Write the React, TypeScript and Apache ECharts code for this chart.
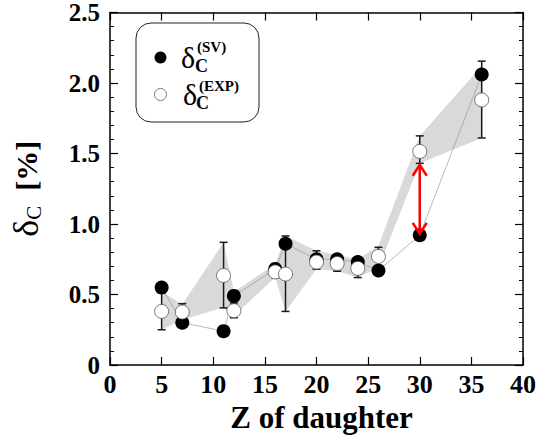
import React, { useEffect, useRef } from "react";
import * as echarts from "echarts";

// Atomic number of daughter
const Z = [5, 7, 11, 12, 16, 17, 20, 22, 24, 26, 30, 36];
// delta_C (SV) [%]
const deltaSV = [0.55, 0.30, 0.24, 0.49, 0.68, 0.86, 0.75, 0.75, 0.73, 0.67, 0.92, 2.06];
// delta_C (EXP) [%]
const deltaEXP = [0.38, 0.375, 0.635, 0.385, 0.66, 0.645, 0.73, 0.72, 0.685, 0.77, 1.515, 1.88];
// error bars on EXP
const errLow = [0.25, 0.32, 0.405, 0.335, 0.62, 0.38, 0.68, 0.665, 0.62, 0.70, 1.43, 1.61];
const errHigh = [0.51, 0.435, 0.87, 0.44, 0.72, 0.915, 0.81, 0.78, 0.75, 0.835, 1.625, 2.155];
// shaded band
const bandLow = [0.25, 0.32, 0.41, 0.35, 0.62, 0.38, 0.68, 0.665, 0.62, 0.69, 1.43, 1.61];
const bandHigh = [0.52, 0.43, 0.87, 0.52, 0.715, 0.915, 0.81, 0.78, 0.75, 0.845, 1.625, 2.12];
// red double arrow
const arrowZ = [30];
const arrowFrom = [0.93];
const arrowTo = [1.42];

const FONT = "Liberation Serif, serif";

export default function App() {
  const ref = useRef<HTMLDivElement>(null);
  useEffect(() => {
    if (!ref.current) return;
    const chart = echarts.init(ref.current, null, { renderer: "svg" });
    const axisLine = { show: true, onZero: false, lineStyle: { color: "#000", width: 1.5 } };
    const option: any = {
      animation: false,
      backgroundColor: "#fff",
      textStyle: { fontFamily: FONT },
      grid: { left: 109, right: 14, top: 10, bottom: 82 },
      xAxis: [
        {
          type: "value",
          min: 0,
          max: 40,
          interval: 5,
          axisLine,
          axisTick: { show: true, inside: true, length: 8, lineStyle: { color: "#000", width: 1.2 } },
          axisLabel: {
            margin: 6,
            fontFamily: FONT,
            fontWeight: "bold",
            fontSize: 26,
            color: "#000",
          },
          splitLine: { show: false },
          name: "Z of daughter",
          nameLocation: "middle",
          nameGap: 37,
          nameTextStyle: { fontFamily: FONT, fontWeight: "bold", fontSize: 31, color: "#000", padding: [0, 0, 0, 10] },
        },
        {
          type: "value",
          position: "top",
          min: 0,
          max: 40,
          interval: 5,
          axisLine,
          axisTick: { show: true, inside: true, length: 8, lineStyle: { color: "#000", width: 1.2 } },
          axisLabel: { show: false },
          splitLine: { show: false },
        },
      ],
      yAxis: [
        {
          type: "value",
          min: 0,
          max: 2.5,
          interval: 0.5,
          axisLine,
          axisTick: { show: true, inside: true, length: 8, lineStyle: { color: "#000", width: 1.2 } },
          minorTick: { show: true, splitNumber: 5, length: 4, lineStyle: { color: "#000", width: 1 } },
          axisLabel: {
            margin: 10,
            fontFamily: FONT,
            fontWeight: "bold",
            fontSize: 25,
            color: "#000",
            formatter: (v: number) => (v === 0 ? "0" : v.toFixed(1)),
          },
          splitLine: { show: false },
          name: "{d|δ}{c|C}{p|  [%]}",
          nameLocation: "middle",
          nameRotate: 90,
          nameGap: 66,
          nameTextStyle: {
            rich: {
              d: { fontFamily: FONT, fontSize: 36, color: "#000" },
              c: { fontFamily: FONT, fontSize: 21, color: "#000", verticalAlign: "bottom" },
              p: { fontFamily: FONT, fontSize: 30, fontWeight: "bold", color: "#000" },
            },
          },
        },
        {
          type: "value",
          position: "right",
          min: 0,
          max: 2.5,
          interval: 0.5,
          axisLine,
          axisTick: { show: true, inside: true, length: 8, lineStyle: { color: "#000", width: 1.2 } },
          minorTick: { show: true, splitNumber: 5, length: 4, lineStyle: { color: "#000", width: 1 } },
          axisLabel: { show: false },
          splitLine: { show: false },
        },
      ],
      series: [
        {
          type: "custom",
          name: "band",
          z: 1,
          silent: true,
          data: Z.map((z, i) => [z, bandLow[i], bandHigh[i]]),
          encode: { x: 0, y: [1, 2] },
          renderItem: (params: any, api: any) => {
            if (params.dataIndex !== 0) return null;
            const upper = Z.map((z, i) => api.coord([z, bandHigh[i]]));
            const lower = Z.map((z, i) => api.coord([z, bandLow[i]])).reverse();
            return {
              type: "polygon",
              shape: { points: upper.concat(lower) },
              style: { fill: "#d9d9d9", stroke: "none" },
            };
          },
        },
        {
          type: "line",
          name: "svline",
          z: 2,
          silent: true,
          showSymbol: false,
          symbol: "none",
          data: Z.map((z, i) => [z, deltaSV[i]]),
          lineStyle: { color: "#999", width: 0.7 },
        },
        {
          type: "custom",
          name: "errors",
          z: 3,
          silent: true,
          data: Z.map((z, i) => [z, errLow[i], errHigh[i]]),
          encode: { x: 0, y: [1, 2] },
          renderItem: (params: any, api: any) => {
            const x = api.value(0);
            const lo = api.coord([x, api.value(1)]);
            const hi = api.coord([x, api.value(2)]);
            const hw = 4;
            const st = { stroke: "#1a1a1a", lineWidth: 1.5 };
            return {
              type: "group",
              children: [
                { type: "line", shape: { x1: lo[0], y1: lo[1], x2: hi[0], y2: hi[1] }, style: st },
                { type: "line", shape: { x1: lo[0] - hw, y1: lo[1], x2: lo[0] + hw, y2: lo[1] }, style: st },
                { type: "line", shape: { x1: hi[0] - hw, y1: hi[1], x2: hi[0] + hw, y2: hi[1] }, style: st },
              ],
            };
          },
        },
        {
          type: "scatter",
          name: "SV",
          z: 4,
          symbol: "circle",
          symbolSize: 14,
          data: Z.map((z, i) => [z, deltaSV[i]]),
          itemStyle: { color: "#000", opacity: 1 },
        },
        {
          type: "scatter",
          name: "EXP",
          z: 5,
          symbol: "circle",
          symbolSize: 14,
          data: Z.map((z, i) => [z, deltaEXP[i]]),
          itemStyle: { color: "#fff", borderColor: "#555", borderWidth: 0.8, opacity: 1 },
        },
        {
          type: "custom",
          name: "arrow",
          z: 6,
          silent: true,
          data: arrowZ.map((z, i) => [z, arrowFrom[i], arrowTo[i]]),
          encode: { x: 0, y: [1, 2] },
          renderItem: (params: any, api: any) => {
            const x = api.value(0);
            const a = api.coord([x, api.value(1)]);
            const b = api.coord([x, api.value(2)]);
            const st = { stroke: "#ff0000", lineWidth: 2.5, fill: "none" };
            const hw = 7;
            const hl = 11;
            return {
              type: "group",
              children: [
                { type: "line", shape: { x1: a[0], y1: a[1], x2: b[0], y2: b[1] }, style: st },
                {
                  type: "polyline",
                  shape: { points: [[b[0] - hw, b[1] + hl], [b[0], b[1]], [b[0] + hw, b[1] + hl]] },
                  style: st,
                },
                {
                  type: "polyline",
                  shape: { points: [[a[0] - hw, a[1] - hl], [a[0], a[1]], [a[0] + hw, a[1] - hl]] },
                  style: st,
                },
              ],
            };
          },
        },
      ],
      graphic: {
        elements: [
          {
            type: "rect",
            z: 10,
            shape: { x: 136, y: 23, width: 123, height: 99, r: 15 },
            style: { fill: "#fff", stroke: "#222", lineWidth: 1 },
          },
          { type: "circle", z: 11, shape: { cx: 160.5, cy: 57.5, r: 6 }, style: { fill: "#000" } },
          {
            type: "circle",
            z: 11,
            shape: { cx: 160.5, cy: 94.5, r: 6 },
            style: { fill: "#fff", stroke: "#555", lineWidth: 0.8 },
          },
          {
            type: "text",
            z: 11,
            x: 181,
            y: 57,
            style: { text: "δ", fontFamily: FONT, fontSize: 30, fill: "#000", align: "left", verticalAlign: "middle" },
          },
          {
            type: "text",
            z: 11,
            x: 195,
            y: 66,
            style: { text: "C", fontFamily: FONT, fontWeight: "bold", fontSize: 18, fill: "#000", align: "left", verticalAlign: "middle" },
          },
          {
            type: "text",
            z: 11,
            x: 197,
            y: 47,
            style: { text: "(SV)", fontFamily: FONT, fontWeight: "bold", fontSize: 15, fill: "#000", align: "left", verticalAlign: "middle" },
          },
          {
            type: "text",
            z: 11,
            x: 183,
            y: 94,
            style: { text: "δ", fontFamily: FONT, fontSize: 30, fill: "#000", align: "left", verticalAlign: "middle" },
          },
          {
            type: "text",
            z: 11,
            x: 196,
            y: 102.5,
            style: { text: "C", fontFamily: FONT, fontWeight: "bold", fontSize: 18, fill: "#000", align: "left", verticalAlign: "middle" },
          },
          {
            type: "text",
            z: 11,
            x: 199,
            y: 86,
            style: { text: "(EXP)", fontFamily: FONT, fontWeight: "bold", fontSize: 15, fill: "#000", align: "left", verticalAlign: "middle" },
          },
        ],
      },
    };
    chart.setOption(option);
    return () => chart.dispose();
  }, []);
  return (
    <div
      ref={ref}
      style={{ position: "absolute", left: 0, top: 0, width: 539, height: 447, background: "#fff" }}
    />
  );
}
